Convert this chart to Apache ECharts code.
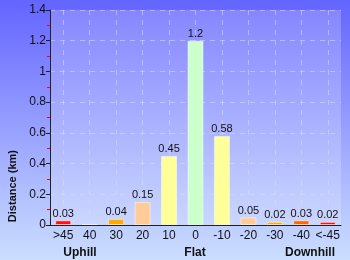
<!DOCTYPE html>
<html><head><meta charset="utf-8">
<script src="https://cdn.jsdelivr.net/npm/echarts@6/dist/echarts.min.js"></script>
<style>
html,body{margin:0;padding:0;}
#c{width:350px;height:260px;background:linear-gradient(to bottom,#6464ff 0%,#ccdeff 100%);}
</style></head>
<body><div id="c"></div>
<script>
const categories = [">45","40","30","20","10","0","-10","-20","-30","-40","<-45"];
const distances = [0.03,0.004,0.04,0.15,0.45,1.2,0.58,0.05,0.02,0.03,0.02];
const yTicks = [0,0.2,0.4,0.6,0.8,1,1.2,1.4];
const groupLabels = ["Uphill","Flat","Downhill"];
const barColors = ["#ff1111","#ff6600","#ffaa00","#ffcc99","#ffff99","#ccffcc","#ffff99","#ffcc99","#ffaa00","#ff6600","#ff1111"];

const font = "Liberation Sans";
// helper axis: half-band positions so split lines fall on category centres
const halfSlots = new Array(categories.length*2+1).fill('');
const gridLine = {color:'rgba(220,220,235,0.55)',type:[5,5],width:1};
const chart = echarts.init(document.getElementById('c'), null, {renderer:'canvas'});
chart.setOption({
  animation:false,
  backgroundColor:'transparent',
  grid:{left:50,right:9,top:10,bottom:35,show:true,borderWidth:0,backgroundColor:'rgba(255,255,255,0.2)'},
  xAxis:[{
    type:'category', data:categories,
    axisLine:{lineStyle:{color:'#222',width:1}},
    axisTick:{show:false},
    axisLabel:{color:'#111',fontFamily:font,fontSize:12,margin:5,interval:0},
    splitLine:{show:false},
    z:5
  },{
    type:'category', data:halfSlots, boundaryGap:false, position:'bottom',
    axisLine:{show:false}, axisTick:{show:false}, axisLabel:{show:false},
    splitLine:{show:true,interval:(i)=>i%2===1,lineStyle:gridLine}
  }],
  yAxis:{
    type:'value', min:yTicks[0], max:yTicks[yTicks.length-1], interval:0.2,
    axisLine:{show:true,lineStyle:{color:'#222',width:1}},
    axisTick:{show:true,length:4,lineStyle:{color:'#222'}},
    minorTick:{show:true,splitNumber:2,length:3,lineStyle:{color:'#ff0000',width:1}},
    axisLabel:{color:'#111',fontFamily:font,fontSize:12,margin:4},
    splitLine:{show:true,lineStyle:gridLine}
  },
  series:[{
    type:'bar', data:distances, barWidth:16, xAxisIndex:0,
    itemStyle:{color:p=>barColors[p.dataIndex],borderColor:'rgba(255,255,255,0.45)',borderWidth:1},
    label:{show:true,position:'top',distance:1,color:'#111',fontFamily:font,fontSize:11,
      formatter:p=>p.value<0.01?'':String(p.value)}
  }],
  graphic:[
    {type:'text',left:7,top:150,rotation:Math.PI/2,style:{text:'Distance (km)',fontFamily:font,fontSize:11,fontWeight:'bold',fill:'#111'}},
    {type:'text',x:80,y:253,style:{text:groupLabels[0],fontFamily:font,fontSize:12,fontWeight:'bold',fill:'#111',align:'center',verticalAlign:'middle'}},
    {type:'text',x:195,y:253,style:{text:groupLabels[1],fontFamily:font,fontSize:12,fontWeight:'bold',fill:'#111',align:'center',verticalAlign:'middle'}},
    {type:'text',x:310,y:253,style:{text:groupLabels[2],fontFamily:font,fontSize:12,fontWeight:'bold',fill:'#111',align:'center',verticalAlign:'middle'}}
  ]
});
</script></body></html>
